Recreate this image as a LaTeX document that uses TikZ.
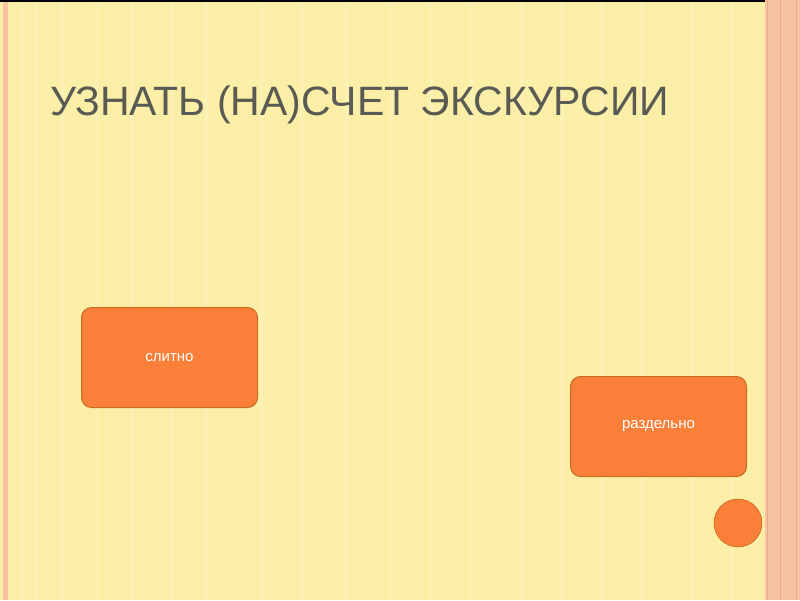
\documentclass[tikz,border=0pt]{standalone}
\usepackage{fontspec}
\setmainfont{Liberation Sans}
\definecolor{bg}{HTML}{FBEEA6}
\definecolor{pinkb}{HTML}{F6C3A0}
\definecolor{pinkd}{HTML}{EBA98A}
\definecolor{org}{HTML}{FA7F38}
\definecolor{orgd}{HTML}{C86A22}
\definecolor{ttl}{HTML}{5A5A55}
\begin{document}
\begin{tikzpicture}[x=1pt,y=-1pt,
  box/.style={draw=orgd,line width=1pt,fill=org,rounded corners=10pt,minimum width=176pt,minimum height=100pt,text=white,font=\fontsize{15}{18}\selectfont,anchor=north west}]
\useasboundingbox (0,0) rectangle (800,600);
\fill[bg] (0,0) rectangle (800,600);
\foreach \x in {20,34,61,95,130,170,205,260,300,345,390,430,470,520,560,600,640,690,730}{
  \fill[white,opacity=0.18] (\x,0) rectangle (\x+3,600);}
\fill[pinkb] (3,0) rectangle (8,600);
\fill[pinkb] (765,0) rectangle (800,600);
\draw[pinkd,line width=1pt] (767,0) -- (767,600);
\draw[pinkd,line width=1pt] (780,0) -- (780,600);
\draw[pinkd,line width=0.6pt] (796,0) -- (796,600);
\fill[black] (0,0) rectangle (765,1.5);
\node[anchor=base west,text=ttl,font=\fontsize{41}{48}\selectfont,inner sep=0] (title) at (50,115) {УЗНАТЬ (НА)СЧЕТ ЭКСКУРСИИ};
\node[box] (a) at (81,307) {слитно};
\node[box] (b) at (570,376) {раздельно};
\node[circle,fill=org,draw=orgd,line width=0.6pt,minimum size=48pt,inner sep=0] (c) at (738,523) {};
\end{tikzpicture}
\end{document}
